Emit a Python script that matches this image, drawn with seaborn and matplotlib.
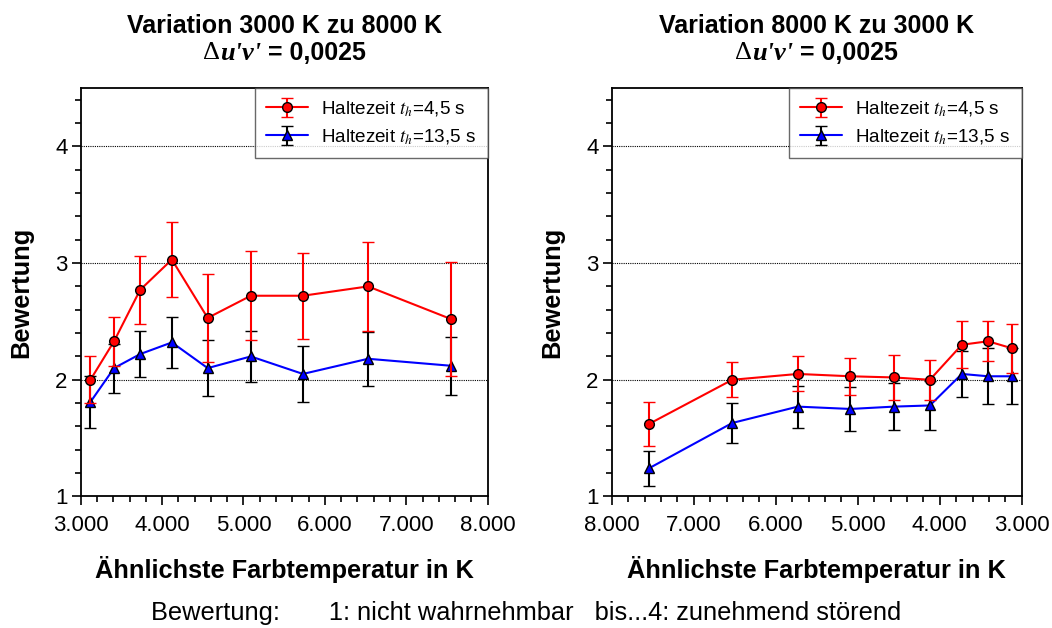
import numpy as np
import matplotlib
matplotlib.use("Agg")
import matplotlib.pyplot as plt
import seaborn as sns
from matplotlib.ticker import MultipleLocator, FixedLocator, FixedFormatter

# Daten
cct = [3120, 3410, 3730, 4120, 4560, 5090, 5730, 6530, 7550]

# Variation 3000 K -> 8000 K
left_45 = [2.00, 2.33, 2.77, 3.03, 2.53, 2.72, 2.72, 2.80, 2.52]
left_45_err = [0.20, 0.21, 0.29, 0.32, 0.38, 0.38, 0.37, 0.38, 0.49]
left_135 = [1.81, 2.10, 2.22, 2.32, 2.10, 2.20, 2.05, 2.18, 2.12]
left_135_err = [0.22, 0.21, 0.20, 0.22, 0.24, 0.22, 0.24, 0.23, 0.25]

# Variation 8000 K -> 3000 K (gleiche CCTs, Achse gespiegelt)
right_45 = [2.27, 2.33, 2.30, 2.00, 2.02, 2.03, 2.05, 2.00, 1.62]
right_45_err = [0.21, 0.17, 0.20, 0.17, 0.19, 0.16, 0.15, 0.15, 0.19]
right_135 = [2.03, 2.03, 2.05, 1.78, 1.77, 1.75, 1.77, 1.63, 1.24]
right_135_err = [0.24, 0.24, 0.20, 0.21, 0.20, 0.19, 0.18, 0.17, 0.15]

xticks = [3000, 4000, 5000, 6000, 7000, 8000]
xtick_labels = ["3.000", "4.000", "5.000", "6.000", "7.000", "8.000"]
yticks = [1, 2, 3, 4]

titles = ["Variation 3000 K zu 8000 K", "Variation 8000 K zu 3000 K"]
labels = [r"Haltezeit $t_h$=4,5 s", r"Haltezeit $t_h$=13,5 s"]

sns.set_theme(style="white")
plt.rcParams["font.family"] = ["Liberation Sans", "DejaVu Sans"]
plt.rcParams["mathtext.fontset"] = "stix"
plt.rcParams["text.color"] = "black"
plt.rcParams["axes.labelcolor"] = "black"
plt.rcParams["xtick.color"] = "black"
plt.rcParams["ytick.color"] = "black"

fig = plt.figure(figsize=(10.52, 6.28), dpi=100)
ax1 = fig.add_axes([0.0767, 0.2094, 0.3869, 0.6505])
ax2 = fig.add_axes([0.5815, 0.2094, 0.3897, 0.6505])


def draw_panel(ax, y45, e45, y135, e135, reverse):
    h1 = ax.errorbar(cct, y45, yerr=e45, color="red", ecolor="red", lw=1.5,
                     elinewidth=1.5, capsize=4, capthick=1.5, marker="o",
                     ms=7, mfc="red", mec="black", mew=1, zorder=4)
    h2 = ax.errorbar(cct, y135, yerr=e135, color="blue", ecolor="black", lw=1.5,
                     elinewidth=1.5, capsize=4, capthick=1.5, marker="^",
                     ms=7.5, mfc="blue", mec="black", mew=1, zorder=3)
    ax.set_xlim((8000, 3000) if reverse else (3000, 8000))
    ax.set_ylim(1, 4.5)
    ax.xaxis.set_major_locator(FixedLocator(xticks))
    ax.xaxis.set_major_formatter(FixedFormatter(xtick_labels))
    ax.xaxis.set_minor_locator(MultipleLocator(200))
    ax.yaxis.set_major_locator(FixedLocator(yticks))
    ax.yaxis.set_minor_locator(MultipleLocator(0.2))
    ax.tick_params(axis="both", which="both", direction="out", bottom=True,
                   left=True, top=False, right=False, color="black", width=1.2)
    ax.tick_params(axis="both", which="major", length=6.5, labelsize=16, pad=3)
    ax.tick_params(axis="x", which="major", pad=7)
    ax.tick_params(axis="both", which="minor", length=4)
    for v in [2, 3, 4]:
        ax.axhline(v, color="black", lw=0.8, ls=(0, (1, 1)), zorder=1)
    for s in ax.spines.values():
        s.set_color("black")
        s.set_linewidth(1.3)
    ax.set_xlabel("Ähnlichste Farbtemperatur in K", fontsize=18.3, fontweight="bold",
                  labelpad=14)
    ax.set_ylabel("Bewertung", fontsize=18.3, fontweight="bold", labelpad=16)
    leg = ax.legend([h1, h2], labels, loc="upper right", fontsize=13.6,
                    frameon=True, fancybox=False, edgecolor="#444444",
                    borderaxespad=0, handlelength=2.2, handletextpad=0.7,
                    borderpad=0.6, labelspacing=0.45)
    leg.get_frame().set_linewidth(1.0)


draw_panel(ax1, left_45, left_45_err, left_135, left_135_err, False)
draw_panel(ax2, right_45, right_45_err, right_135, right_135_err, True)

# Titel: zwei Zeilen, zweite Zeile mit Serifen-Formelzeichen
line2 = []
for ax, title in zip([ax1, ax2], titles):
    pos = ax.get_position()
    cx = (pos.x0 + pos.x1) / 2
    fig.text(cx, 0.958, title, ha="center", va="center", fontsize=18,
             fontweight="bold")
    ta = fig.text(cx, 0.915, "\u0394", ha="left", va="center", fontsize=19,
                  family="Liberation Serif")
    tb = fig.text(cx, 0.915, "u'v'", ha="left", va="center", fontsize=19,
                  family="Liberation Serif", style="italic", fontweight="bold")
    tc = fig.text(cx, 0.915, " = 0,0025", ha="left", va="center", fontsize=18,
                  fontweight="bold")
    line2.append((cx, ta, tb, tc))

fig.canvas.draw()
r = fig.canvas.get_renderer()
W = fig.bbox.width
for cx, ta, tb, tc in line2:
    wa = ta.get_window_extent(r).width / W
    wb = tb.get_window_extent(r).width / W
    wc = tc.get_window_extent(r).width / W
    x0 = cx - (wa + wb + wc) / 2
    ta.set_x(x0)
    tb.set_x(x0 + wa)
    tc.set_x(x0 + wa + wb)

fig.text(0.5, 0.024, "Bewertung:       1: nicht wahrnehmbar   bis...4: zunehmend störend",
         ha="center", va="center", fontsize=18.3)

fig.savefig("out.png", dpi=100)
